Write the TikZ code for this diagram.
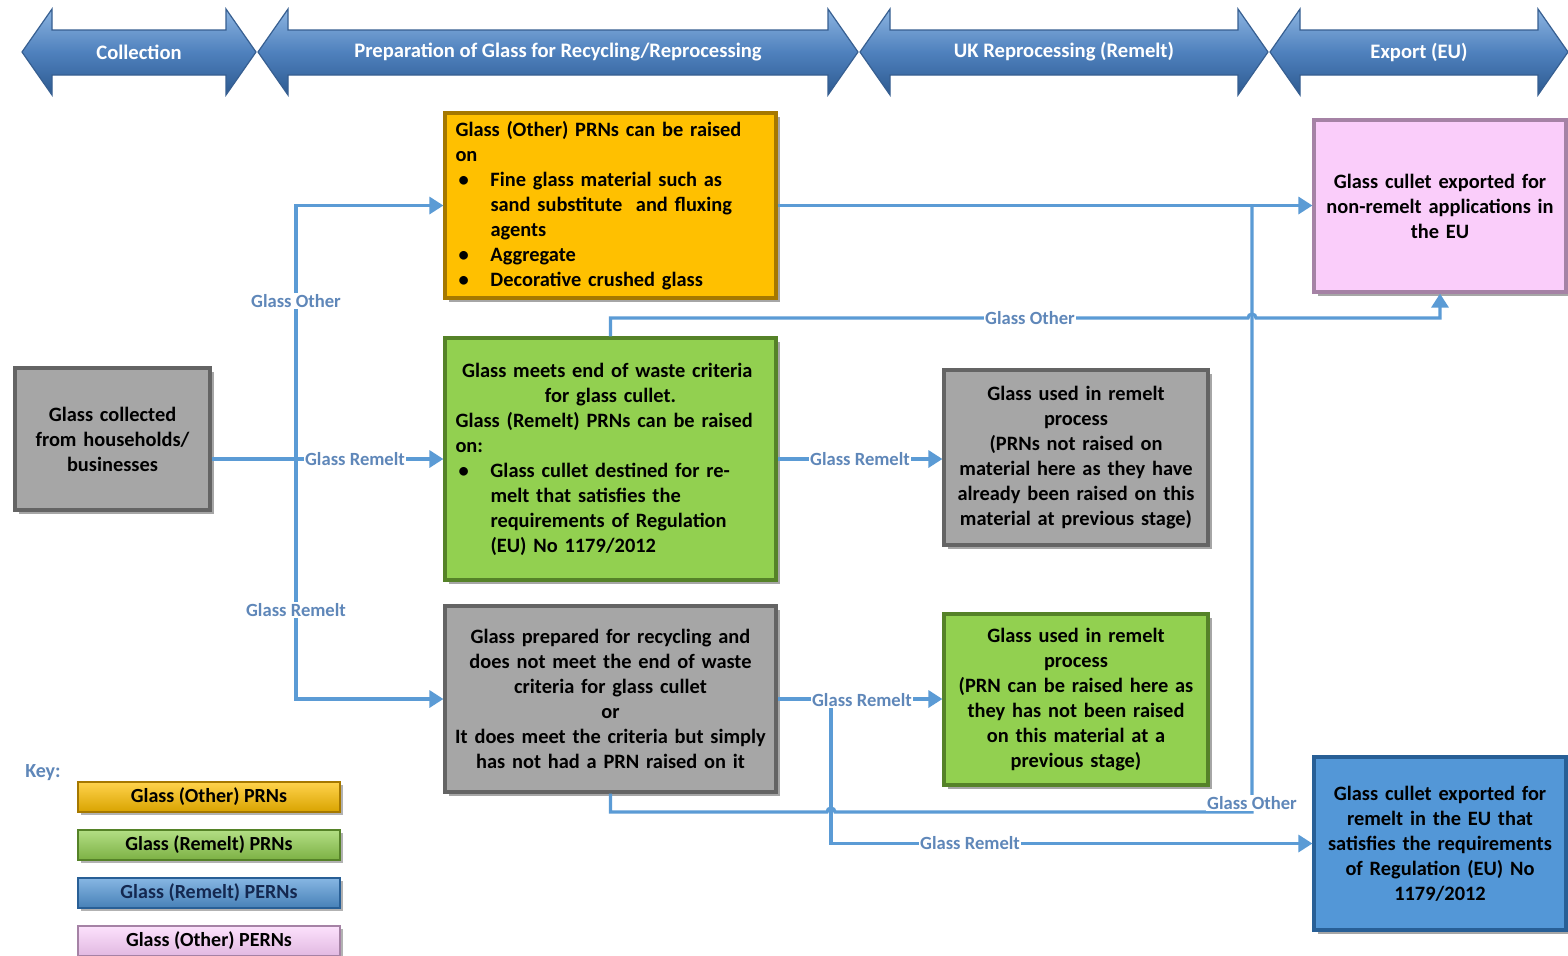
\documentclass[tikz,border=0pt]{standalone}
\usepackage{fontspec}
\setmainfont{Carlito}
\usetikzlibrary{arrows.meta,shadows}
\definecolor{cOrange}{RGB}{255,192,0}
\definecolor{cOrangeD}{RGB}{165,120,0}
\definecolor{cGreen}{RGB}{146,208,80}
\definecolor{cGreenD}{RGB}{85,130,40}
\definecolor{cGray}{RGB}{166,166,166}
\definecolor{cGrayD}{RGB}{100,100,100}
\definecolor{cPink}{RGB}{250,205,250}
\definecolor{cPinkD}{RGB}{165,130,165}
\definecolor{cBlue}{RGB}{83,151,215}
\definecolor{cBlueD}{RGB}{40,95,150}
\definecolor{cLine}{RGB}{91,155,213}
\definecolor{cLabel}{RGB}{95,135,185}
\definecolor{hdrTop}{RGB}{140,180,225}
\definecolor{hdrMid}{RGB}{79,129,189}
\definecolor{hdrBot}{RGB}{45,90,145}
\definecolor{hdrLine}{RGB}{55,95,145}
\definecolor{cNavy}{RGB}{20,40,80}
\newcommand\bitem[1]{\par\noindent\hangindent=17.5pt\hangafter=1\makebox[17.5pt][l]{\hspace{1.5pt}\textbullet}#1}
\newcommand\hdrarrow[4]{%
  \shade[hdr] (#1,52) -- (#1+30,9) -- (#1+30,30) -- (#2-30,30) -- (#2-30,9) -- (#2,52)
    -- (#2-30,95) -- (#2-30,75) -- (#1+30,75) -- (#1+30,95) -- cycle;
  \node[hdrtext] (#3) at ({(#1+#2)/2},52) {#4};}
\begin{document}
\begin{tikzpicture}[x=0.5pt,y=-0.5pt,
  hdr/.style={top color=hdrTop, bottom color=hdrBot, middle color=hdrMid, draw=hdrLine, line width=0.6pt},
  hdrtext/.style={text=white, font=\bfseries\fontsize{10.3}{12}\selectfont, inner sep=0pt},
  box/.style={rectangle, line width=1.6pt, inner sep=0pt, text=black,
    font=\bfseries\fontsize{10.2}{12.5}\selectfont,
    drop shadow={shadow xshift=2pt, shadow yshift=-2pt, opacity=0.35, fill=black}},
  orangeb/.style={box, fill=cOrange, draw=cOrangeD},
  greenb/.style={box, fill=cGreen, draw=cGreenD},
  grayb/.style={box, fill=cGray, draw=cGrayD},
  pinkb/.style={box, fill=cPink, draw=cPinkD},
  blueb/.style={box, fill=cBlue, draw=cBlueD},
  conn/.style={draw=cLine, line width=1.6pt},
  arr/.style={conn, -{Triangle[length=7pt,width=8.5pt]}},
  lbl/.style={fill=white, inner sep=0.8pt, text=cLabel, font=\bfseries\fontsize{9.3}{10}\selectfont},
  keybar/.style={rectangle, minimum width=131pt, minimum height=15pt, inner sep=0pt, line width=1pt,
    font=\bfseries\fontsize{10}{11}\selectfont,
    drop shadow={shadow xshift=1.5pt, shadow yshift=-1.5pt, opacity=0.3, fill=black}},
]
\useasboundingbox (0,0) rectangle (1568,955);
\fill[white] (0,0) rectangle (1568,955);

% header arrows
\hdrarrow{22}{256}{hcol}{Collection}
\hdrarrow{258}{858}{hprep}{Preparation of Glass for Recycling/Reprocessing}
\hdrarrow{860}{1268}{huk}{UK Reprocessing (Remelt)}
\hdrarrow{1270}{1568}{hexp}{Export (EU)}

% boxes
\node[grayb, minimum width=97.5pt, minimum height=71pt, text width=94pt, align=center] (coll) at (112.5,439)
  {Glass collected\\ from households/\\ businesses};

\node[orangeb, minimum width=165.5pt, minimum height=92.5pt, text width=155pt] (oth) at (610.5,205.5)
  {\raggedright\noindent Glass (Other) PRNs can be raised\newline on
   \bitem{Fine glass material such as\newline sand substitute\ \ and fluxing\newline agents}
   \bitem{Aggregate}
   \bitem{Decorative crushed glass}\par};

\node[greenb, minimum width=165.5pt, minimum height=121pt, text width=155pt] (eow) at (610.5,459)
  {{\centering Glass meets end of waste criteria\newline for glass cullet.\par}
   \raggedright\noindent Glass (Remelt) PRNs can be raised\newline on:
   \bitem{Glass cullet destined for re-\newline melt that satisfies the\newline requirements of Regulation\newline (EU) No 1179/2012}\par};

\node[grayb, minimum width=165.5pt, minimum height=93pt, text width=160pt, align=center] (prep) at (610.5,699)
  {Glass prepared for recycling and\\ does not meet the end of waste\\ criteria for glass cullet\\ or\\ It does meet the criteria but simply\\ has not had a PRN raised on it};

\node[grayb, minimum width=132pt, minimum height=87.5pt, text width=128pt, align=center] (rem1) at (1076,457.5)
  {Glass used in remelt\\ process\\ (PRNs not raised on\\ material here as they have\\ already been raised on this\\ material at previous stage)};

\node[greenb, minimum width=132pt, minimum height=85.5pt, text width=128pt, align=center] (rem2) at (1076,699.5)
  {Glass used in remelt\\ process\\ (PRN can be raised here as\\ they has not been raised\\ on this material at a\\ previous stage)};

\node[pinkb, minimum width=126pt, minimum height=86pt, text width=122pt, align=center] (expo) at (1440,206)
  {Glass cullet exported for\\ non-remelt applications in\\ the EU};

\node[blueb, minimum width=126pt, minimum height=86.5pt, text width=122pt, align=center] (expr) at (1440,843.5)
  {Glass cullet exported for\\ remelt in the EU that\\ satisfies the requirements\\ of Regulation (EU) No\\ 1179/2012};

% connectors
\coordinate (j1) at (296,459);
\draw[conn] (j1 -| coll.east) -- (j1);
\draw[arr] (j1) -- (j1 -| eow.west);
\draw[arr] (j1) -- (j1 |- oth.west) -- (oth.west);
\draw[arr] (j1) -- (j1 |- prep.west) -- (prep.west);
\node[lbl] (l1) at (355,459) {Glass Remelt};
\node[lbl] (l2) at (296,301) {Glass Other};
\node[lbl] (l3) at (296,610) {Glass Remelt};

\draw[arr] (oth.east) -- (oth.east -| expo.west);

\coordinate (h1) at (1252,318);
\coordinate (v1) at (1252,812);
\coordinate (h2) at (831,812);
\draw[arr] (eow.north) -- (eow.north |- h1) -- ([xshift=-2pt]h1) arc[start angle=180,end angle=0,radius=2pt]
  -- (h1 -| expo.south) -- (expo.south);
\node[lbl] (l4) at (1030,318) {Glass Other};

\draw[conn] (prep.south) -- (prep.south |- v1) -- ([xshift=-2pt]h2) arc[start angle=180,end angle=0,radius=2pt]
  -- (v1) -- (v1 |- oth.east);

\draw[arr] (eow.east) -- (eow.east -| rem1.west);
\node[lbl] (l5) at (860,459) {Glass Remelt};

\coordinate (j2) at (831,699);
\draw[arr] (prep.east) -- (prep.east -| rem2.west);
\draw[arr] (j2) -- (j2 |- expr.west) -- (expr.west);
\node[lbl] (l6) at (862,700) {Glass Remelt};
\node[lbl] (l7) at (970,843) {Glass Remelt};
\node[lbl] (l8) at (1252,803) {Glass Other};

% key
\node[text=cLabel, font=\bfseries\fontsize{10}{11}\selectfont] (key) at (43,773) {Key:};
\node[keybar, top color=cOrange!70!white, bottom color=cOrange!85!black, draw=cOrangeD] (k1) at (209,797) {Glass (Other) PRNs};
\node[keybar, top color=cGreen!70!white, bottom color=cGreen!85!black, draw=cGreenD] (k2) at (209,845) {Glass (Remelt) PRNs};
\node[keybar, top color=cBlue!70!white, bottom color=cBlue!85!black, draw=cBlueD, text=cNavy] (k3) at (209,893) {Glass (Remelt) PERNs};
\node[keybar, top color=cPink!60!white, bottom color=cPink!90!black, draw=cPinkD] (k4) at (209,941) {Glass (Other) PERNs};
\end{tikzpicture}
\end{document}
